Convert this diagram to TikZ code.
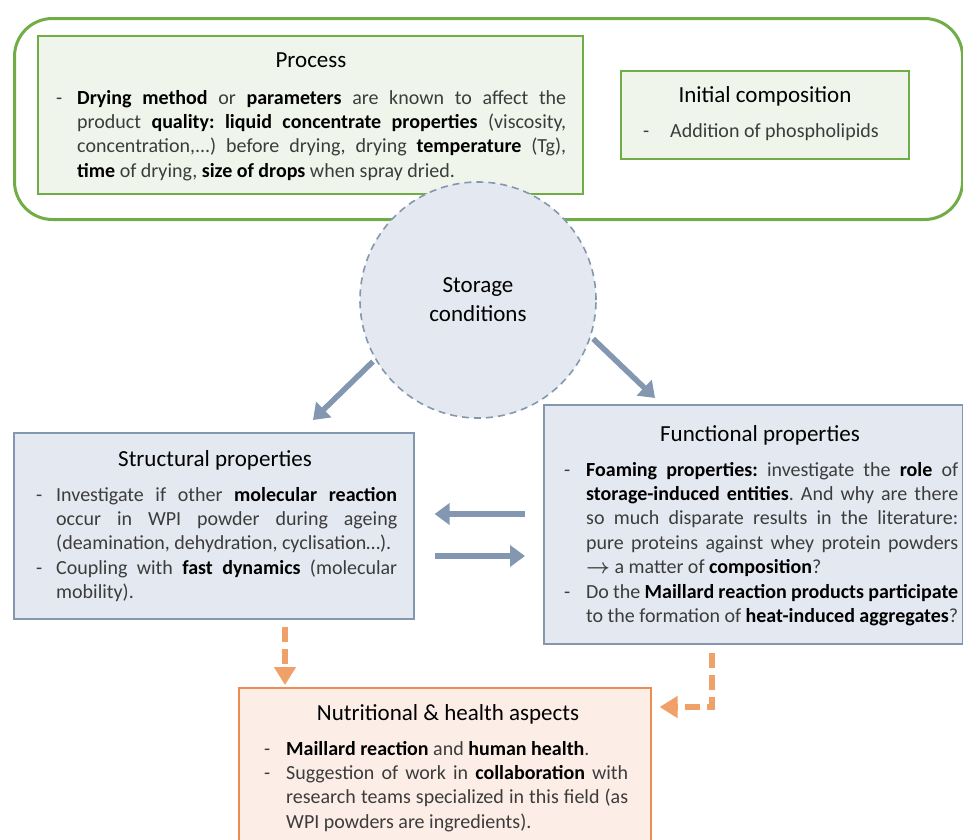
\documentclass[tikz,border=0pt]{standalone}
\usepackage{fontspec}
\setmainfont{Carlito}
\usepackage{xcolor}
\usepackage{amsmath}
\usetikzlibrary{arrows.meta,positioning}
\definecolor{leaf}{RGB}{112,173,71}
\definecolor{leaffill}{RGB}{240,245,235}
\definecolor{slate}{RGB}{132,151,176}
\definecolor{slatefill}{RGB}{228,232,240}
\definecolor{peach}{RGB}{240,160,105}
\definecolor{peachline}{RGB}{237,140,80}
\definecolor{peachfill}{RGB}{252,238,230}
\definecolor{ink}{RGB}{60,60,60}
\newcommand{\hl}[1]{\textbf{\color{black}#1}}
\newcommand{\dashitem}[2][22pt]{\noindent\makebox[#1][l]{-}\parbox[t]{\dimexpr\hsize-#1\relax}{#2\strut}\par\prevdepth=\dp\strutbox}
\hyphenpenalty=10000
\exhyphenpenalty=10000
\frenchspacing

\begin{document}
\begin{tikzpicture}[x=1pt,y=-1pt,
    groupbox/.style={draw=leaf, line width=3pt, rounded corners=38pt, anchor=north west},
    greenbox/.style={draw=leaf, line width=1.6pt, fill=leaffill, anchor=north west},
    bluebox/.style={draw=slate, line width=1.6pt, fill=slatefill, anchor=north west},
    orangebox/.style={draw=peachline, line width=1.6pt, fill=peachfill, anchor=north west},
    titletext/.style={anchor=base, inner sep=0pt, text=black, font=\fontsize{23}{28}\selectfont},
    bodytext/.style={anchor=base west, align=justify, inner sep=0pt, text=ink,
      font=\fontsize{20}{24.4}\selectfont},
    bluearrow/.style={draw=slate, line width=5.5pt, -{Triangle[width=21pt,length=15pt]}},
    orangearrow/.style={draw=peach, line width=5.5pt, dash pattern=on 15pt off 7pt,
      -{Triangle[width=21pt,length=18pt]}}]
  \clip (0,0) rectangle (963,839);

  % top group
  \node[groupbox, minimum width=948pt, minimum height=201pt] (group) at (13,17) {};
  \node[greenbox, minimum width=545pt, minimum height=158pt] (process) at (37,35) {};
  \node[titletext] (proctitle) at (311,67) {Process};
  \node[bodytext, text width=510pt] (procbody) at (56,104) {\dashitem[21pt]{\hl{Drying method} or \hl{parameters} are known to affect the\linebreak
    product \hl{quality:} \hl{liquid concentrate properties} (viscosity,\linebreak
    concentration,...) before drying, drying \hl{temperature} (Tg),\linebreak
    \hl{time} of drying, \hl{size of drops} when spray dried.}};
  \node[greenbox, minimum width=288pt, minimum height=88pt] (initial) at (620,70) {};
  \node[titletext] (inittitle) at (765,102) {Initial composition};
  \node[bodytext, text width=260pt] (initbody) at (643,137) {\dashitem[27pt]{Addition of phospholipids}};

  % storage
  \node[circle, draw=slate, fill=slatefill, line width=1.6pt, dash pattern=on 7pt off 5pt,
    minimum size=236pt, align=center, font=\fontsize{23}{29}\selectfont] (storage) at (478,300) {Storage\\conditions};

  % property boxes
  \node[bluebox, minimum width=400pt, minimum height=186pt] (structural) at (13,432) {};
  \node[titletext] (structtitle) at (215,466) {Structural properties};
  \node[bodytext, text width=361pt] (structbody) at (36,501) {\dashitem[20pt]{Investigate if other \hl{molecular reaction}\linebreak
    occur in WPI powder during ageing\linebreak
    (deamination, dehydration, cyclisation\ldots).}
    \dashitem[20pt]{Coupling with \hl{fast dynamics} (molecular\linebreak
    mobility).}};
  \node[bluebox, minimum width=419pt, minimum height=239pt] (functional) at (543,404) {};
  \node[titletext] (functitle) at (760,441) {Functional properties};
  \node[bodytext, text width=394pt] (funcbody) at (564,476) {\dashitem{\hl{Foaming properties:} investigate the \hl{role} of\linebreak
    \hl{storage-induced entities}. And why are there\linebreak
    so much disparate results in the literature:\linebreak
    pure proteins against whey protein powders\linebreak
    $\boldsymbol{\rightarrow}$ a matter of \hl{composition}?}
    \dashitem{Do the \hl{Maillard reaction products participate}\linebreak
    to the formation of \hl{heat-induced aggregates}?}};

  % nutrition
  \node[orangebox, minimum width=412pt, minimum height=175pt] (nutrition) at (238,687) {};
  \node[titletext] (nutrititle) at (448,720) {Nutritional \& health aspects};
  \node[bodytext, text width=364pt] (nutribody) at (264,755) {\dashitem{\hl{Maillard reaction} and \hl{human health}.}
    \dashitem{Suggestion of work in \hl{collaboration} with\linebreak
    research teams specialized in this field (as\linebreak
    WPI powders are ingredients).}};

  % arrows
  \coordinate (tostruct) at (313,420);
  \coordinate (tofunc) at (655,398);
  \draw[bluearrow, shorten <=3pt] (storage.210) -- (tostruct);
  \draw[bluearrow, shorten <=3pt] (storage.-18) -- (tofunc);
  \draw[bluearrow, shorten <=18pt, shorten >=20pt] (functional.west |- 0,514) -- (structural.east |- 0,514);
  \draw[bluearrow, shorten <=20pt, shorten >=18pt] (structural.east |- 0,556) -- (functional.west |- 0,556);
  \draw[orangearrow, shorten <=7pt, shorten >=2pt] (structural.south -| 285,0) -- (nutrition.north -| 285,0);
  \draw[orangearrow, shorten <=8pt, shorten >=8pt] (functional.south -| 712,0) |- (nutrition.east |- 0,707);
\end{tikzpicture}
\end{document}
